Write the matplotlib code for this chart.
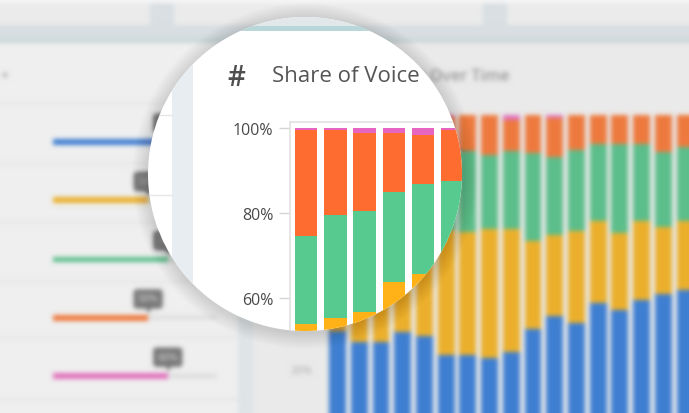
import numpy as np
import matplotlib
matplotlib.use("Agg")
import matplotlib.pyplot as plt
from matplotlib.patches import Circle, Rectangle

plt.rcParams['font.family'] = ['Open Sans', 'DejaVu Sans']

W, H = 689, 414
DPI = 100

# share of voice per period (%), stacked bottom -> top
blue   = [32.0, 28.4, 28.4, 31.7, 30.5, 24.4, 24.4, 23.3, 25.2, 32.6, 36.8, 34.5, 40.8, 38.7, 41.9, 43.7, 45.0]
yellow = [21.9, 26.8, 28.4, 32.0, 35.1, 39.6, 39.0, 41.0, 39.1, 27.7, 25.5, 29.0, 25.9, 24.2, 25.0, 21.1, 21.9]
green  = [20.6, 24.3, 23.7, 21.3, 21.2, 23.5, 25.1, 23.0, 24.4, 27.7, 24.4, 25.5, 24.1, 27.9, 23.9, 23.4, 22.9]
orange = [25.1, 20.0, 18.4, 13.9, 11.5, 12.0, 11.5, 12.7, 9.8, 12.0, 12.5, 11.0, 9.2, 9.2, 9.2, 11.8, 10.2]
pink   = [0.4, 0.5, 1.1, 1.1, 1.7, 0.5, 0.0, 0.0, 1.5, 0.0, 0.8, 0.0, 0.0, 0.0, 0.0, 0.0, 0.0]
series = [blue, yellow, green, orange, pink]

# left panel: overall share per brand
panel_share = [70, 58, 70, 58, 70]
panel_labels = ["70%", "58%", "70%", "50%", "60%"]

bg_colors = ['#3f7fd1', '#ebb02c', '#5cbe8b', '#ee7a3e', '#e072bd']
zoom_colors = ['#3b7dd8', '#ffb217', '#57cb8f', '#ff6c2f', '#e665c0']

# lens
CX, CY, R = 305, 175, 157


def px_axes(fig, left, top, right, bottom):
    # axes placed by pixel edges (y measured from the top)
    return fig.add_axes([left / W, (H - bottom) / H, (right - left) / W, (bottom - top) / H])


def blur(img, sigma):
    r = int(3 * sigma)
    k = np.exp(-0.5 * (np.arange(-r, r + 1) / sigma) ** 2)
    k /= k.sum()
    h, w, _ = img.shape
    pad = np.pad(img, ((r, r), (r, r), (0, 0)), mode='edge')
    tmp = np.zeros((h + 2 * r, w, 3))
    for i, kv in enumerate(k):
        tmp += kv * pad[:, i:i + w, :]
    out = np.zeros((h, w, 3))
    for i, kv in enumerate(k):
        out += kv * tmp[i:i + h, :, :]
    return np.clip(out, 0, 1)


# ---------------- background dashboard (rendered, then blurred) ----------------
fig_bg = plt.figure(figsize=(W / DPI, H / DPI), dpi=DPI)
ax_bg = fig_bg.add_axes([0, 0, 1, 1])
ax_bg.set_xlim(0, W)
ax_bg.set_ylim(H, 0)
ax_bg.axis('off')

ax_bg.add_patch(Rectangle((0, 0), W, H, fc='#eaeaea', ec='none'))
ax_bg.add_patch(Rectangle((0, 0), W, 5, fc='#f6f6f6', ec='none'))
ax_bg.add_patch(Rectangle((0, 5), W, 22, fc='#ebebeb', ec='none'))
for sx in (150, 483):
    ax_bg.add_patch(Rectangle((sx, 5), 24, 22, fc='#d9dfe3', ec='none'))
ax_bg.add_patch(Rectangle((0, 27), W, 18, fc='#d8dee1', ec='none'))
ax_bg.add_patch(Rectangle((0, 41), W, 3, fc='#c6d5d7', ec='none'))
ax_bg.add_patch(Rectangle((0, 45), 238, H - 45, fc='#efefef', ec='none'))
ax_bg.add_patch(Rectangle((238, 45), 15, H - 45, fc='#dfe4e7', ec='none'))
for ly in (105, 165, 223, 282, 338, 400):
    ax_bg.plot([0, 238], [ly, ly], color='#dedede', lw=1)
ax_bg.add_patch(Circle((5, 77), 2.5, fc='#b5b5b5', ec='none'))

ax_bg.text(317, 82, "Share of Voice Over Time", fontsize=11.5, color='#9a9a9a',
           fontweight='semibold')

# left panel bars
ax_l = px_axes(fig_bg, 53, 115, 217, 406)
ax_l.set_xlim(0, 100)
ax_l.set_ylim(len(panel_share) - 0.5, -0.5)
ax_l.axis('off')
rows = np.arange(len(panel_share))
ax_l.barh(rows, [100] * len(rows), height=0.09, color='#e1e1e1')
ax_l.barh(rows, panel_share, height=0.1, color=bg_colors)
for i, (v, lab) in enumerate(zip(panel_share, panel_labels)):
    ax_l.annotate(lab, xy=(v, i), xytext=(0, 13.5), textcoords='offset points',
                  ha='center', va='center', fontsize=7.5, color='#c8c8c8',
                  fontweight='semibold',
                  bbox=dict(boxstyle='round,pad=0.4,rounding_size=0.3', fc='#777777', ec='none'))
    ax_l.plot([v], [i - 0.13], marker='v', ms=4.5, color='#777777', mec='none')

# stacked chart, normal scale
n = len(blue)
x = np.arange(n)
ax_c = px_axes(fig_bg, 318, 117, 720, 433)
ax_c.set_facecolor('none')
ax_c.set_xlim(-0.9, (720 - 337.5) / 21.72)
ax_c.set_ylim(0, 100)
bottom = np.zeros(n)
for vals, col in zip(series, bg_colors):
    ax_c.bar(x, vals, bottom=bottom, width=0.78, color=col)
    bottom += np.array(vals)
for s in ax_c.spines.values():
    s.set_visible(False)
ax_c.set_xticks([])
ax_c.set_yticks([0, 20, 40, 60, 80, 100])
ax_c.set_yticklabels([f"{t}%" for t in [0, 20, 40, 60, 80, 100]])
ax_c.tick_params(axis='y', length=0, pad=4, labelsize=8, labelcolor='#a8a8a8')

fig_bg.canvas.draw()
raw = np.asarray(fig_bg.canvas.buffer_rgba())[..., :3].astype(float) / 255.0
plt.close(fig_bg)
soft = blur(raw, 2.3)

# ---------------- final figure ----------------
fig = plt.figure(figsize=(W / DPI, H / DPI), dpi=DPI)
ax_img = fig.add_axes([0, 0, 1, 1])
ax_img.imshow(soft, extent=(0, W, H, 0), interpolation='none', aspect='auto')
ax_img.axis('off')

ax_ov = fig.add_axes([0, 0, 1, 1], zorder=2)
ax_ov.set_facecolor('none')
ax_ov.set_xlim(0, W)
ax_ov.set_ylim(H, 0)
ax_ov.axis('off')

# soft halo around the lens
for k in range(16):
    ax_ov.add_patch(Circle((CX, CY + 2), R + 16 - k, fc='black', ec='none', alpha=0.009))
ax_ov.add_patch(Circle((CX, CY), R, fc='white', ec='none'))
clip = Circle((CX, CY), R, transform=ax_ov.transData)

lens_parts = [
    Rectangle((0, 0), W, 27, fc='#e2e7ea', ec='none'),
    Rectangle((0, 27), W, 5, fc='#b9d7d8', ec='none'),
    Rectangle((172, 32), 21, H, fc='#e8edf1', ec='none'),
]
for p in lens_parts:
    ax_ov.add_patch(p)
    p.set_clip_path(clip)
for ly in (116, 196):
    ln, = ax_ov.plot([130, 172], [ly, ly], color='#e6e6e6', lw=1)
    ln.set_clip_path(clip)

ax_ov.text(227, 86, "#", fontsize=20, color='#4f4f4f', fontweight='semibold')
ax_ov.text(272, 82, "Share of Voice", fontsize=16, color='#555555')

# stacked chart, magnified
ax_m = px_axes(fig, 290, 123, 720, 554)
ax_m.set_zorder(3)
ax_m.set_facecolor('none')
ax_m.set_xlim((290 - 306) / 29.3, (720 - 306) / 29.3)
ax_m.set_ylim(0, 100 * (554 - 123) / (554 - 129))
bottom = np.zeros(n)
for vals, col in zip(series, zoom_colors):
    ax_m.bar(x, vals, bottom=bottom, width=0.77, color=col)
    bottom += np.array(vals)
for p in ax_m.patches:
    p.set_clip_path(clip)
for s in ax_m.spines.values():
    s.set_color('#e2e2e2')
    s.set_linewidth(1.2)
    s.set_clip_path(clip)
ax_m.set_xticks([])
ax_m.set_yticks([60, 80, 100])
ax_m.set_yticklabels(["60%", "80%", "100%"])
ax_m.tick_params(axis='y', length=8, width=1, color='#d5d5d5', pad=4,
                 labelsize=11.5, labelcolor='#4a4a4a')

fig.savefig("out.png", dpi=DPI)
